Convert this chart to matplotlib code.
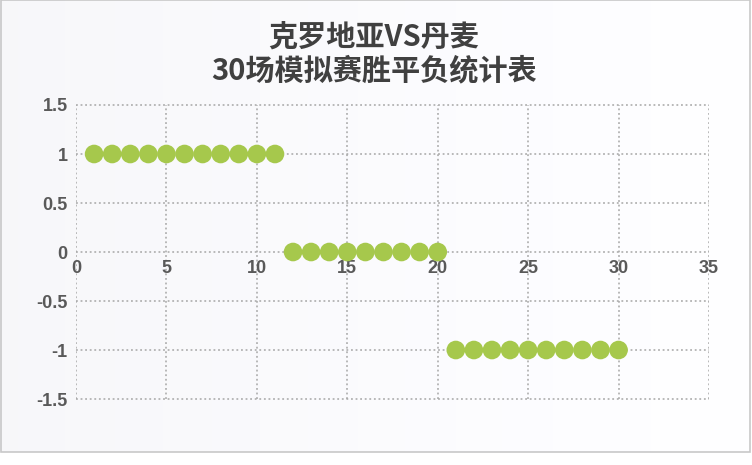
import numpy as np
import matplotlib.pyplot as plt
from matplotlib.patches import Rectangle

# match index (1..30) and result: 1 = win, 0 = draw, -1 = loss
games = list(range(1, 31))
results = [1] * 11 + [0] * 9 + [-1] * 10

x_ticks = [0, 5, 10, 15, 20, 25, 30, 35]
y_ticks = [-1.5, -1, -0.5, 0, 0.5, 1, 1.5]
y_labels = ['-1.5', '-1', '-0.5', '0', '0.5', '1', '1.5']

title = '克罗地亚VS丹麦\n30场模拟赛胜平负统计表'

fig = plt.figure(figsize=(7.52, 4.65), dpi=100)
fig.patch.set_facecolor('white')

# light chart background with thin frame
bg = fig.add_axes([0, 0, 1, 1], zorder=0)
bg.set_xlim(0, 752)
bg.set_ylim(465, 0)
bg.axis('off')
grad = np.linspace(0.97, 1.0, 256).reshape(1, -1)
bg.imshow(np.dstack([grad, grad, np.minimum(grad * 1.01, 1)]),
          extent=(0, 750, 452, 0), aspect='auto', zorder=0)
bg.add_patch(Rectangle((0.5, 0.5), 749, 451, fill=False, edgecolor='#c8c8c8', lw=1.2, zorder=1))

ax = fig.add_axes([0.1011, 0.1419, 0.8417, 0.6323], zorder=1)
ax.patch.set_alpha(0)

ax.scatter(games, results, s=180, color='#a6c84c', edgecolors='none', zorder=3)

ax.set_xlim(0, 35)
ax.set_ylim(-1.5, 1.5)
ax.set_xticks(x_ticks)
ax.set_yticks(y_ticks)
ax.set_yticklabels(y_labels)

ax.grid(True, linestyle=(0, (1.2, 1.8)), color='#a6a6a6', linewidth=1.1)
for gl in ax.get_xgridlines() + ax.get_ygridlines():
    gl.set_clip_on(False)

for side in ['top', 'right', 'left', 'bottom']:
    ax.spines[side].set_visible(False)
# x labels sit on the zero line
ax.spines['bottom'].set_position(('data', 0))

ax.tick_params(length=0, labelsize=13, labelcolor='#595959', pad=6)
ax.tick_params(axis='x', pad=6)
for lbl in ax.get_xticklabels() + ax.get_yticklabels():
    lbl.set_fontweight('bold')
    lbl.set_fontfamily('Liberation Sans')

fig.text(0.497, 0.885, title, ha='center', va='center', fontsize=21,
         fontweight='bold', color='#404040', linespacing=1.12,
         family=['Noto Sans CJK SC', 'DejaVu Sans'])

fig.savefig('out.png', dpi=100)
